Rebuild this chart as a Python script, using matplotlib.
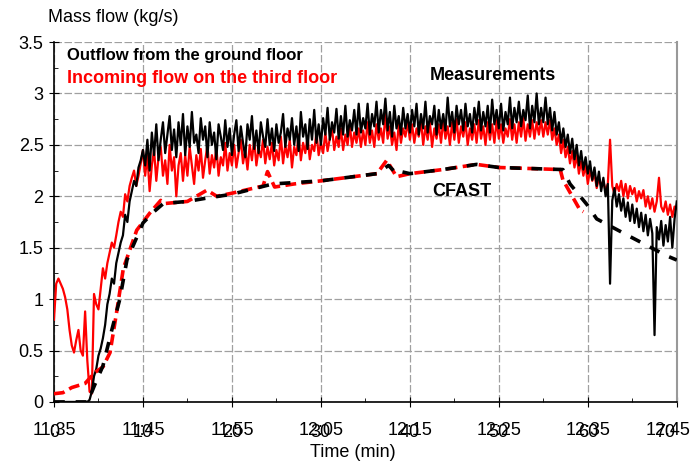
import numpy as np
import matplotlib.pyplot as plt
from matplotlib.transforms import ScaledTranslation

plt.rcParams['font.family'] = ['Liberation Sans', 'DejaVu Sans']

# measured series, read every 0.25 min from 0 to 70 min (one row = 5 min)
t_meas = np.arange(0, 70.001, 0.25)
outflow_ground = [
    0.00, 0.00, 0.00, 0.00, 0.00, 0.00, 0.00, 0.00, 0.00, 0.00, 0.00, 0.00, 0.00, 0.00, 0.00, 0.00, 0.02, 0.10, 0.25, 0.32,
    0.45, 0.52, 0.62, 0.75, 0.95, 1.05, 1.20, 1.15, 1.35, 1.45, 1.55, 1.62, 1.82, 1.75, 1.95, 2.05, 2.15, 2.10, 2.28, 2.35,
    2.45, 2.30, 2.55, 2.25, 2.62, 2.40, 2.70, 2.35, 2.55, 2.72, 2.42, 2.60, 2.78, 2.45, 2.65, 2.38, 2.72, 2.50, 2.80, 2.40,
    2.68, 2.48, 2.82, 2.52, 2.60, 2.42, 2.76, 2.55, 2.68, 2.38, 2.72, 2.50, 2.62, 2.36, 2.70, 2.58, 2.45, 2.74, 2.48, 2.66,
    2.40, 2.60, 2.74, 2.44, 2.68, 2.52, 2.38, 2.70, 2.55, 2.78, 2.46, 2.64, 2.42, 2.72, 2.58, 2.48, 2.75, 2.50, 2.66, 2.44,
    2.70, 2.52, 2.62, 2.80, 2.48, 2.66, 2.55, 2.76, 2.50, 2.68, 2.44, 2.82, 2.58, 2.70, 2.46, 2.75, 2.55, 2.84, 2.52, 2.70,
    2.50, 2.76, 2.60, 2.86, 2.55, 2.72, 2.62, 2.85, 2.56, 2.78, 2.60, 2.88, 2.58, 2.74, 2.64, 2.84, 2.60, 2.90, 2.62, 2.76,
    2.66, 2.90, 2.60, 2.80, 2.68, 2.92, 2.62, 2.84, 2.70, 2.95, 2.64, 2.82, 2.58, 2.88, 2.66, 2.78, 2.60, 2.86, 2.66, 2.80,
    2.62, 2.84, 2.68, 2.90, 2.60, 2.80, 2.66, 2.92, 2.62, 2.78, 2.70, 2.88, 2.60, 2.84, 2.66, 2.80, 2.64, 2.96, 2.68, 2.82,
    2.62, 2.88, 2.70, 2.84, 2.64, 2.90, 2.68, 2.80, 2.62, 2.86, 2.70, 2.92, 2.64, 2.82, 2.68, 2.88, 2.62, 2.94, 2.70, 2.84,
    2.66, 2.90, 2.64, 2.82, 2.70, 2.96, 2.66, 2.86, 2.72, 2.92, 2.68, 2.84, 2.74, 2.98, 2.66, 2.88, 2.72, 3.00, 2.70, 2.86,
    2.72, 2.96, 2.70, 2.86, 2.64, 2.82, 2.60, 2.72, 2.52, 2.66, 2.48, 2.60, 2.42, 2.56, 2.36, 2.50, 2.30, 2.44, 2.26, 2.38,
    2.22, 2.34, 2.16, 2.28, 2.10, 2.24, 2.05, 2.18, 2.00, 2.12, 1.15, 1.96, 2.08, 1.90, 2.02, 1.86, 1.98, 1.80, 1.94, 1.76,
    1.92, 1.74, 1.88, 1.70, 1.84, 1.66, 1.82, 1.62, 1.78, 1.64, 0.65, 1.70, 1.58, 1.76, 1.52, 1.72, 1.56, 1.80, 1.50, 1.78,
    1.95]
incoming_third = [
    0.80, 1.15, 1.20, 1.15, 1.10, 1.02, 0.90, 0.70, 0.55, 0.48, 0.60, 0.70, 0.50, 0.45, 0.88, 0.40, 0.10, 0.08, 1.05, 0.95,
    0.90, 1.10, 1.30, 1.20, 1.35, 1.45, 1.55, 1.50, 1.62, 1.75, 1.85, 1.80, 2.02, 1.95, 2.10, 2.18, 2.25, 2.10, 2.20, 2.32,
    2.45, 2.20, 2.40, 2.05, 2.30, 2.45, 2.15, 2.38, 2.48, 2.20, 2.35, 2.12, 2.50, 2.25, 2.38, 2.00, 2.30, 2.42, 2.15, 2.40,
    2.20, 2.48, 2.30, 2.12, 2.40, 2.25, 2.46, 2.18, 2.35, 2.50, 2.22, 2.40, 2.28, 2.48, 2.20, 2.38, 2.30, 2.52, 2.25, 2.42,
    2.30, 2.50, 2.28, 2.42, 2.55, 2.32, 2.45, 2.26, 2.50, 2.35, 2.55, 2.30, 2.46, 2.38, 2.55, 2.32, 2.48, 2.36, 2.52, 2.30,
    2.45, 2.35, 2.58, 2.32, 2.50, 2.38, 2.55, 2.28, 2.48, 2.40, 2.60, 2.35, 2.52, 2.42, 2.58, 2.36, 2.50, 2.44, 2.62, 2.40,
    2.52, 2.42, 2.62, 2.44, 2.56, 2.66, 2.45, 2.58, 2.48, 2.66, 2.45, 2.60, 2.50, 2.70, 2.48, 2.62, 2.52, 2.66, 2.48, 2.64,
    2.50, 2.72, 2.52, 2.64, 2.48, 2.70, 2.55, 2.66, 2.52, 2.80, 2.56, 2.68, 2.50, 2.62, 2.45, 2.70, 2.52, 2.66, 2.58, 2.72,
    2.55, 2.70, 2.52, 2.66, 2.58, 2.74, 2.50, 2.68, 2.55, 2.72, 2.48, 2.66, 2.56, 2.70, 2.52, 2.74, 2.56, 2.68, 2.50, 2.72,
    2.55, 2.75, 2.52, 2.68, 2.58, 2.72, 2.50, 2.66, 2.55, 2.70, 2.52, 2.74, 2.56, 2.68, 2.50, 2.72, 2.55, 2.70, 2.52, 2.74,
    2.56, 2.70, 2.52, 2.66, 2.58, 2.75, 2.55, 2.70, 2.52, 2.72, 2.58, 2.76, 2.54, 2.70, 2.58, 2.74, 2.56, 2.72, 2.60, 2.74,
    2.58, 2.72, 2.60, 2.74, 2.55, 2.66, 2.50, 2.60, 2.42, 2.55, 2.38, 2.48, 2.32, 2.44, 2.28, 2.40, 2.22, 2.34, 2.20, 2.30,
    2.12, 2.26, 2.15, 2.22, 2.08, 2.18, 2.10, 2.15, 2.05, 2.12, 2.55, 2.10, 2.02, 2.12, 2.05, 2.15, 2.00, 2.12, 1.98, 2.10,
    2.02, 2.08, 1.95, 2.05, 1.98, 2.06, 1.90, 2.00, 1.88, 1.98, 1.85, 1.95, 2.18, 1.90, 1.85, 1.95, 1.82, 1.92, 1.80, 1.90,
    1.88]

# CFAST predictions
t_cfast_out = [0, 3.8, 4.5, 5.5, 6.5, 7.4, 8.2, 9.3, 10, 11.1, 12.3, 15, 17,
               20, 24.6, 30, 36.3, 37.6, 38.5, 39, 40, 43.7, 47.5, 50, 57.2,
               58, 59.9, 61, 64.7, 68.9, 70]
cfast_out = [0.0, 0.0, 0.15, 0.35, 0.7, 1.0, 1.38, 1.6, 1.74, 1.84, 1.93, 1.95,
             1.98, 2.02, 2.12, 2.15, 2.22, 2.3, 2.22, 2.24, 2.22, 2.26, 2.31,
             2.28, 2.26, 2.12, 1.92, 1.78, 1.61, 1.42, 1.38]
t_cfast_in = [0, 1, 2, 3.5, 4.5, 5.5, 6.3, 7, 7.8, 9.3, 10.8, 12, 12.5, 15,
              17.2, 18.3, 20, 23.5, 24, 24.8, 27, 30, 36.3, 37.4, 38.5, 40,
              43.7, 47.5, 50, 56.9, 57.2, 59.1, 59.5]
cfast_in = [0.08, 0.09, 0.14, 0.18, 0.28, 0.34, 0.48, 0.85, 1.3, 1.67, 1.84,
            1.96, 1.93, 1.95, 2.06, 2.0, 2.03, 2.1, 2.24, 2.09, 2.12, 2.15,
            2.22, 2.35, 2.19, 2.22, 2.26, 2.31, 2.28, 2.26, 2.16, 1.87, 1.85]

x_ticks = [0, 10, 20, 30, 40, 50, 60, 70]
clock_labels = ['11:35', '11:45', '11:55', '12:05', '12:15', '12:25', '12:35', '12:45']

fig = plt.figure(figsize=(6.92, 4.62), dpi=100)
ax = fig.add_axes([0.078, 0.13, 0.9, 0.779])

ax.plot(t_meas, incoming_third, color='#ff0000', lw=1.6, zorder=3)
ax.plot(t_meas, outflow_ground, color='black', lw=1.6, zorder=4)
ax.plot(t_cfast_in, cfast_in, color='#ff0000', lw=2.6, dashes=(3, 1.5), zorder=5)
ax.plot(t_cfast_out, cfast_out, color='black', lw=2.6, dashes=(3, 3), zorder=6)

ax.set_xlim(0, 70)
ax.set_ylim(0, 3.5)
ax.set_xticks(x_ticks)
ax.set_xticklabels(clock_labels, fontsize=13)
ax.set_xticks(np.arange(5, 70, 10), minor=True)
ax.set_yticks(np.arange(0, 3.51, 0.5))
ax.set_yticklabels(['0', '0.5', '1', '1.5', '2', '2.5', '3', '3.5'], fontsize=13)
ax.set_yticks(np.arange(0.25, 3.5, 0.5), minor=True)
ax.tick_params(which='major', direction='inout', length=7)
ax.tick_params(axis='x', which='major', pad=11)
ax.tick_params(axis='y', which='major', pad=4)
ax.tick_params(which='minor', direction='in', length=3)

# the last clock label sits a little left so it stays on the canvas
last = ax.get_xticklabels()[-1]
last.set_transform(last.get_transform() + ScaledTranslation(-0.09, 0, fig.dpi_scale_trans))

# second row of tick labels (elapsed minutes), overlapping the clock times
for xt in x_ticks:
    shift = -0.12 if xt == 70 else 0
    ax.text(xt, -0.062, str(xt), ha='center', va='top', fontsize=13,
            transform=ax.get_xaxis_transform()
            + ScaledTranslation(shift, 0, fig.dpi_scale_trans))

ax.grid(True, which='major', color='#a0a0a0', ls=(0, (6, 2)), lw=0.9)
ax.spines['top'].set_visible(False)
ax.spines['right'].set_color('#999999')
ax.spines['right'].set_linewidth(1.5)
ax.spines['left'].set_linewidth(1.2)
ax.spines['bottom'].set_linewidth(1.2)

ax.text(1.5, 3.37, 'Outflow from the ground floor', fontsize=12,
        fontweight='bold', color='black', va='center')
ax.text(1.5, 3.15, 'Incoming flow on the third floor', fontsize=13,
        fontweight='bold', color='#ff0000', va='center')
ax.text(49.3, 3.17, 'Measurements', fontsize=13, fontweight='bold',
        ha='center', va='center')
ax.text(45.8, 2.05, 'CFAST', fontsize=13, fontweight='bold',
        ha='center', va='center')

ax.set_xlabel('Time (min)', fontsize=13)
ax.xaxis.set_label_coords(0.48, -0.118)
fig.text(0.069, 0.963, 'Mass flow (kg/s)', fontsize=13, va='center')

fig.savefig('out.png', dpi=100)
